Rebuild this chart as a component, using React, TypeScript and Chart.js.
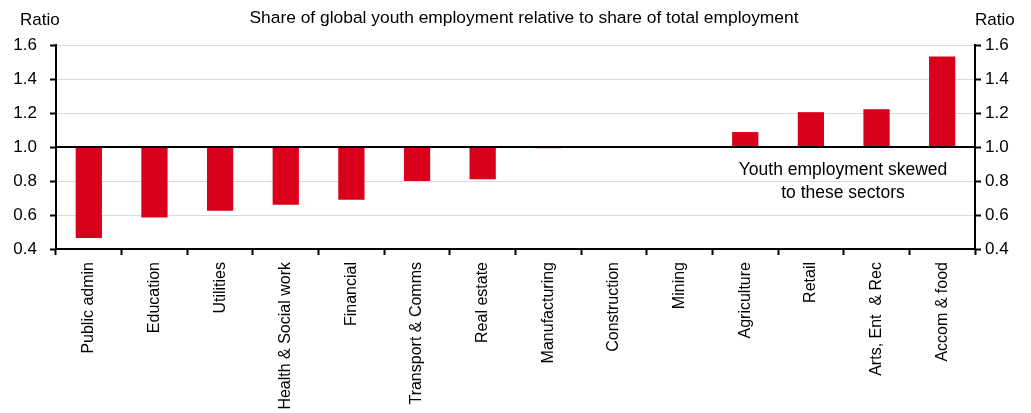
import React, { useEffect, useRef } from "react";
import { Chart, registerables } from "chart.js";

Chart.register(...registerables);

const categories = [
  "Public admin",
  "Education",
  "Utilities",
  "Health & Social work",
  "Financial",
  "Transport & Comms",
  "Real estate",
  "Manufacturing",
  "Construction",
  "Mining",
  "Agriculture",
  "Retail",
  "Arts, Ent  & Rec",
  "Accom & food",
];

const ratios = [0.465, 0.585, 0.625, 0.66, 0.69, 0.8, 0.81, 0.993, 1.0, 1.0, 1.088, 1.205, 1.222, 1.532];

const baseline = 1.0;
const yTicks = [0.4, 0.6, 0.8, 1.0, 1.2, 1.4, 1.6];

const titleText = "Share of global youth employment relative to share of total employment";
const axisTitle = "Ratio";
const annotationLines = ["Youth employment skewed", "to these sectors"];

const FONT = "'Liberation Sans', Arial, sans-serif";

export default function App() {
  const ref = useRef<HTMLCanvasElement | null>(null);

  useEffect(() => {
    document.body.style.margin = "0";
    const canvas = ref.current;
    if (!canvas) return;

    const overlay = {
      id: "overlay",
      afterDatasetsDraw(chart: any) {
        const { ctx, chartArea, scales } = chart;
        const y = scales.y.getPixelForValue(baseline);
        ctx.save();
        ctx.strokeStyle = "#000";
        ctx.lineWidth = 2;
        ctx.beginPath();
        ctx.moveTo(chartArea.left, y);
        ctx.lineTo(chartArea.right, y);
        ctx.stroke();
        ctx.restore();
      },
      afterDraw(chart: any) {
        const { ctx } = chart;
        ctx.save();
        ctx.fillStyle = "#000";
        ctx.textBaseline = "middle";
        ctx.font = `17.4px ${FONT}`;
        ctx.textAlign = "center";
        ctx.fillText(titleText, 524, 18);
        ctx.font = `17px ${FONT}`;
        ctx.textAlign = "left";
        ctx.fillText(axisTitle, 20, 20);
        ctx.fillText(axisTitle, 975, 20);
        ctx.font = `17.5px ${FONT}`;
        ctx.textAlign = "center";
        ctx.fillText(annotationLines[0], 843, 170);
        ctx.fillText(annotationLines[1], 843, 193);
        ctx.restore();
      },
    };

    const chart = new Chart(canvas, {
      type: "bar",
      data: {
        labels: categories,
        datasets: [
          {
            data: ratios.map((v) => [baseline, v]) as any,
            backgroundColor: "#d9001b",
            borderWidth: 0,
            barPercentage: 0.4,
            categoryPercentage: 1.0,
          },
        ],
      },
      options: {
        responsive: false,
        animation: false,
        layout: { padding: { top: 45, left: 0, right: 0, bottom: 0 } },
        plugins: {
          legend: { display: false },
          tooltip: { enabled: false },
          title: { display: false },
        },
        scales: {
          x: {
            type: "category",
            grid: {
              offset: true,
              drawOnChartArea: false,
              drawTicks: true,
              tickLength: 6,
              tickColor: "#000",
              tickWidth: 2,
            },
            border: { display: true, color: "#000", width: 2 },
            ticks: {
              autoSkip: false,
              minRotation: 90,
              maxRotation: 90,
              padding: 7,
              color: "#000",
              font: { family: FONT, size: 16 },
            },
            afterFit(scale: any) {
              scale.height = 164;
            },
          },
          y: {
            position: "left",
            min: 0.4,
            max: 1.6,
            afterBuildTicks(scale: any) {
              scale.ticks = yTicks.map((v) => ({ value: v }));
            },
            grid: {
              color: "#d9d9d9",
              lineWidth: 1,
              tickLength: 6,
              tickColor: "#000",
              tickWidth: 2,
            },
            border: { display: true, color: "#000", width: 2 },
            ticks: {
              padding: 13,
              color: "#000",
              font: { family: FONT, size: 17 },
              callback: (v: any) => Number(v).toFixed(1),
            },
            afterFit(scale: any) {
              scale.width = 56;
            },
          },
          y2: {
            position: "right",
            min: 0.4,
            max: 1.6,
            afterBuildTicks(scale: any) {
              scale.ticks = yTicks.map((v) => ({ value: v }));
            },
            grid: {
              drawOnChartArea: false,
              tickLength: 6,
              tickColor: "#000",
              tickWidth: 2,
            },
            border: { display: true, color: "#000", width: 2 },
            ticks: {
              padding: 4,
              color: "#000",
              font: { family: FONT, size: 17 },
              callback: (v: any) => Number(v).toFixed(1),
            },
            afterFit(scale: any) {
              scale.width = 56;
            },
          },
        },
      },
      plugins: [overlay],
    });

    return () => chart.destroy();
  }, []);

  return (
    <div style={{ width: 1031, height: 413 }}>
      <canvas ref={ref} width={1031} height={413} style={{ display: "block" }} />
    </div>
  );
}
